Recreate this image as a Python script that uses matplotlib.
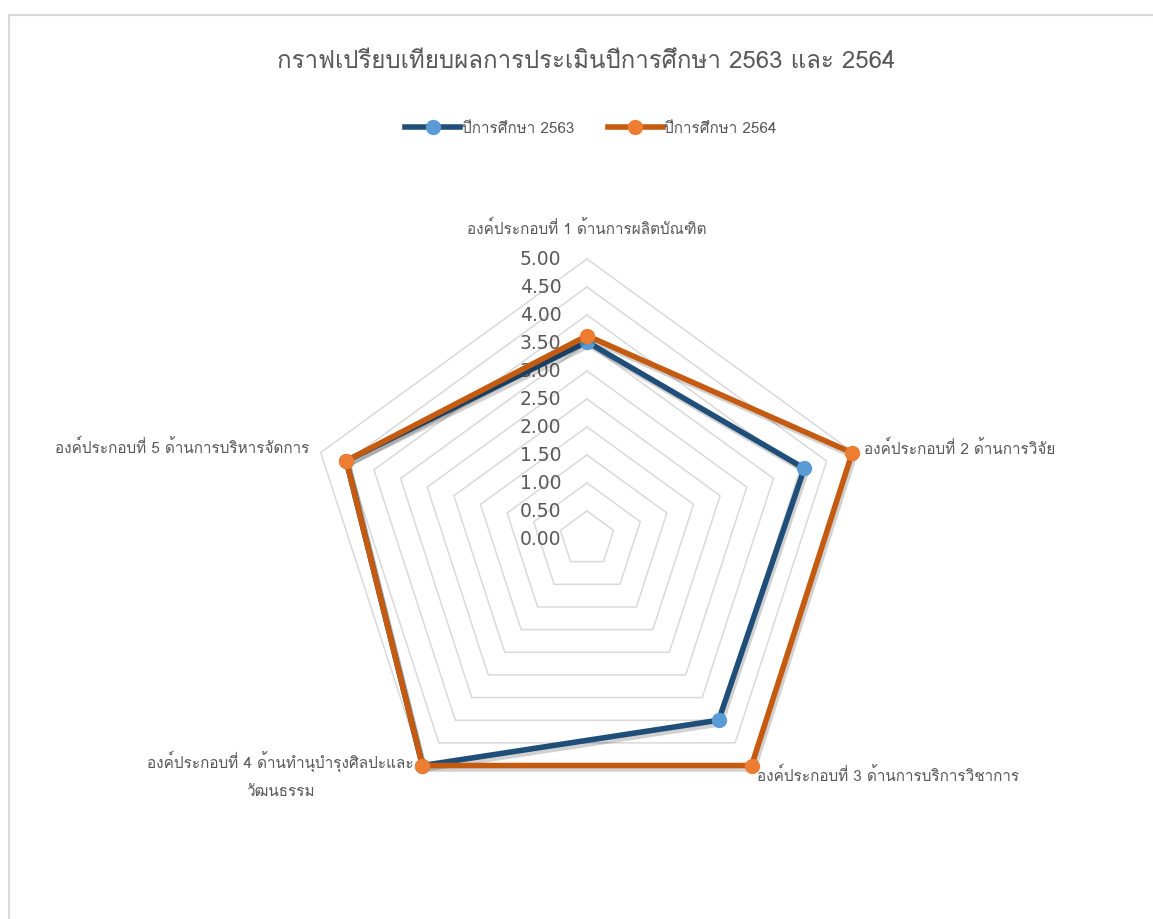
import numpy as np
import matplotlib
matplotlib.use("Agg")
import matplotlib.pyplot as plt
import matplotlib.patheffects as pe
from matplotlib import font_manager
from matplotlib.ft2font import FT2Font
from matplotlib.lines import Line2D

# Data
categories = [
    "องค์ประกอบที่ 1 ด้านการผลิตบัณฑิต",
    "องค์ประกอบที่ 2 ด้านการวิจัย",
    "องค์ประกอบที่ 3 ด้านการบริการวิชาการ",
    "องค์ประกอบที่ 4 ด้านทำนุบำรุงศิลปะและ\nวัฒนธรรม",
    "องค์ประกอบที่ 5 ด้านการบริหารจัดการ",
]
series_names = ["ปีการศึกษา 2563", "ปีการศึกษา 2564"]
scores_2563 = [3.52, 4.08, 4.00, 5.00, 4.52]
scores_2564 = [3.63, 4.98, 5.00, 5.00, 4.52]
grid_levels = [0.5, 1.0, 1.5, 2.0, 2.5, 3.0, 3.5, 4.0, 4.5, 5.0]
tick_levels = [0.0, 0.5, 1.0, 1.5, 2.0, 2.5, 3.0, 3.5, 4.0, 4.5, 5.0]
title = "กราฟเปรียบเทียบผลการประเมินปีการศึกษา 2563 และ 2564"


# pick an installed font that has Thai glyphs
def find_thai_font():
    fonts = sorted(font_manager.fontManager.ttflist,
                   key=lambda f: (f.weight != 400 and f.weight != "normal",
                                  f.style != "normal", "Serif" in f.name))
    for f in fonts:
        try:
            if 0x0E01 in FT2Font(f.fname).get_charmap():
                return f.name
        except Exception:
            pass
    return "DejaVu Sans"


thai_font = find_thai_font()
plt.rcParams["font.family"] = [thai_font, "DejaVu Sans"]

gray_text = "#595959"
grid_color = "#D9D9D9"
line_colors = ["#1F4E79", "#C55A11"]
marker_colors = ["#5B9BD5", "#ED7D31"]

fig = plt.figure(figsize=(11.53, 9.20), dpi=100)

# outer chart-area border (top and left visible)
fig.add_artist(Line2D([8.5 / 1153, 1], [1 - 15.5 / 920, 1 - 15.5 / 920],
                      color=grid_color, lw=1.5, transform=fig.transFigure))
fig.add_artist(Line2D([8.5 / 1153, 8.5 / 1153], [0, 1 - 15.5 / 920],
                      color=grid_color, lw=1.5, transform=fig.transFigure))

# polar axes: centre (587, 540) px, radius 280 px
ax = fig.add_axes([307 / 1153, 100 / 920, 560 / 1153, 560 / 920], projection="polar")
ax.set_theta_offset(np.pi / 2)
ax.set_theta_direction(-1)
ax.set_ylim(0, 5)
ax.grid(False)
ax.spines["polar"].set_visible(False)
ax.set_xticks([])
ax.set_yticks([])
ax.patch.set_visible(False)

n = len(categories)
theta = np.linspace(0, 2 * np.pi, n, endpoint=False)
theta_c = np.append(theta, theta[0])

# pentagon gridlines
for lvl in grid_levels:
    ax.plot(theta_c, [lvl] * (n + 1), color=grid_color, lw=1.1, zorder=1, clip_on=False)

# value labels along the vertical axis
for v in tick_levels:
    ax.annotate(f"{v:.2f}", xy=(0, v), xytext=(-18.5, 0), textcoords="offset points",
                ha="right", va="center", fontsize=13.5, color=gray_text, zorder=2,
                family=["DejaVu Sans"])

# series
shadow = [pe.SimpleLineShadow(offset=(1.5, -2.5), shadow_color="k", alpha=0.18),
          pe.Normal()]
for i, vals in enumerate([scores_2563, scores_2564]):
    vals_c = vals + [vals[0]]
    ax.plot(theta_c, vals_c, color=line_colors[i], lw=4, zorder=3 + i,
            clip_on=False, path_effects=shadow, solid_joinstyle="miter")
    ax.plot(theta, vals, ls="none", marker="o", ms=10, color=marker_colors[i],
            mec=marker_colors[i], zorder=3 + i, clip_on=False)

# category labels
label_offsets = [(0, 23), (8, 4), (4, -6.5), (-6, -6), (-8, 4.5)]
label_ha = ["center", "left", "left", "right", "right"]
for k in range(n):
    ax.annotate(categories[k], xy=(theta[k], 5), xytext=label_offsets[k],
                textcoords="offset points", ha=label_ha[k], va="center",
                multialignment="center", linespacing=2.2,
                fontsize=11, color=gray_text, annotation_clip=False)

# legend
handles = [Line2D([], [], color=line_colors[i], lw=4, marker="o", ms=10,
                  mfc=marker_colors[i], mec=marker_colors[i]) for i in range(2)]
fig.legend(handles, series_names, loc="center", bbox_to_anchor=(591 / 1153, 1 - 129 / 920),
           ncol=2, frameon=False, fontsize=11, labelcolor=gray_text,
           handlelength=3.6, handletextpad=0.1, columnspacing=2.2)

fig.text(586 / 1153, 1 - 62 / 920, title, ha="center", va="center",
         fontsize=17.3, color=gray_text)

fig.savefig("out.png", dpi=100)
